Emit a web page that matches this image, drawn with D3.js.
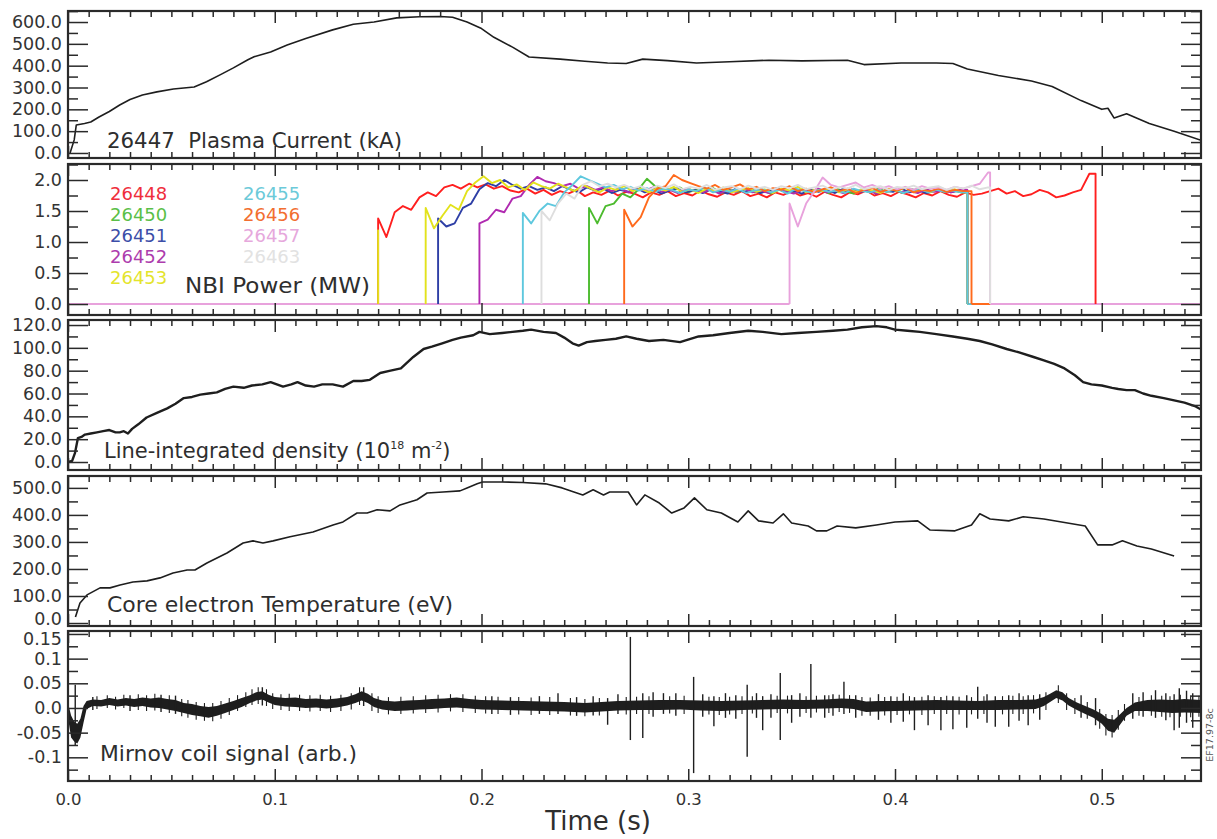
<!DOCTYPE html>
<html><head><meta charset="utf-8">
<script src="https://cdn.jsdelivr.net/npm/d3@7"></script>
<style>
body{margin:0;background:#fff}
svg{display:block}
text{font-family:"DejaVu Sans",sans-serif;fill:#2e2e2e}
</style>
</head><body>
<svg id="c" width="1217" height="839"></svg>
<script>
// ---------------- DATA ----------------
const xTickValues = [0, 0.1, 0.2, 0.3, 0.4, 0.5];
const xTickLabels = ["0.0", "0.1", "0.2", "0.3", "0.4", "0.5"];

const yTicksCurrent = [0, 100, 200, 300, 400, 500, 600];
const yLabelsCurrent = ["0.0", "100.0", "200.0", "300.0", "400.0", "500.0", "600.0"];
const yTicksNbi = [0, 0.5, 1.0, 1.5, 2.0];
const yLabelsNbi = ["0.0", "0.5", "1.0", "1.5", "2.0"];
const yTicksDensity = [0, 20, 40, 60, 80, 100, 120];
const yLabelsDensity = ["0.0", "20.0", "40.0", "60.0", "80.0", "100.0", "120.0"];
const yTicksTemp = [0, 100, 200, 300, 400, 500];
const yLabelsTemp = ["0.0", "100.0", "200.0", "300.0", "400.0", "500.0"];
const yTicksMirnov = [-0.1, -0.05, 0, 0.05, 0.1, 0.15];
const yLabelsMirnov = ["-0.1", "-0.05", "0.0", "0.05", "0.1", "0.15"];

// Plasma current, shot 26447 (kA)
const currentT = [0.001,0.003,0.004,0.008,0.011,0.015,0.020,0.025,0.030,0.036,0.043,0.051,0.061,0.067,0.074,0.080,0.087,0.090,0.098,0.106,0.115,0.128,0.138,0.148,0.159,0.170,0.180,0.186,0.193,0.200,0.206,0.215,0.223,0.238,0.250,0.261,0.270,0.278,0.290,0.304,0.320,0.339,0.355,0.377,0.385,0.403,0.420,0.428,0.435,0.450,0.466,0.476,0.490,0.500,0.503,0.506,0.512,0.523,0.535,0.548];
const currentI = [0,60,128,135,142,165,190,220,245,266,280,293,302,326,360,390,427,441,463,495,525,564,590,600,619,624,625,622,600,570,530,485,440,430,420,412,410,430,423,412,418,425,422,425,405,412,412,410,385,355,330,305,240,200,205,160,180,135,100,58];

// NBI power (MW)
const nbiShots  = ["26448","26450","26451","26452","26453","26455","26456","26457","26463"];
const nbiColors = ["#ff1f1f","#4cbb2e","#2e3fa6","#b02ab0","#e2e21c","#5ec8de","#ff6a1c","#e8a2dc","#dedede"];
const nbiLegendColors = ["#ef2e3c","#5abf48","#3c4ea8","#ad3cad","#e4e42c","#6ccad9","#f26e30","#e6a8dc","#e2e2e2"];
const nbiOn  = [0.150, 0.252, 0.179, 0.199, 0.173, 0.220, 0.269, 0.349, 0.229];
const nbiOff = [0.497, 0.435, 0.435, 0.435, 0.435, 0.435, 0.437, 0.446, 0.446];
const nbiStep = 0.004;
const nbiPulse26453 = [0.150, 1.20];
const nbi26448 = [1.38,1.08,1.48,1.58,1.52,1.72,1.80,1.74,1.88,1.92,
 1.86,1.94,1.88,1.93,1.86,1.90,1.83,1.80,1.86,1.78,
 1.84,1.76,1.82,1.78,1.84,1.74,1.80,1.76,1.83,1.75,
 1.81,1.78,1.72,1.80,1.76,1.82,1.74,1.79,1.75,1.83,
 1.77,1.73,1.80,1.76,1.82,1.74,1.78,1.72,1.80,1.76,
 1.82,1.75,1.79,1.73,1.81,1.76,1.72,1.80,1.77,1.83,
 1.75,1.79,1.74,1.81,1.77,1.72,1.79,1.75,1.82,1.76,
 1.73,1.80,1.76,1.78,1.82,1.86,1.78,1.82,1.74,1.77,
 1.84,1.80,1.72,1.75,1.80,1.84,2.10];
const nbi26450 = [1.55,1.30,1.58,1.62,1.78,1.72,1.85,2.02,1.90,1.86,
 1.84,1.88,1.80,1.85,1.82,1.87,1.79,1.84,1.81,1.86,
 1.80,1.83,1.78,1.85,1.82,1.80,1.86,1.81,1.84,1.79,
 1.85,1.82,1.78,1.84,1.80,1.86,1.81,1.83,1.79,1.85,
 1.82,1.80,1.84,1.81,1.83,1.80];
const nbi26451 = [1.38,1.25,1.30,1.55,1.62,1.85,1.95,1.90,2.00,1.92,
 1.86,1.90,1.84,1.88,1.82,1.90,1.85,1.80,1.88,1.83,
 1.86,1.79,1.84,1.81,1.87,1.80,1.85,1.78,1.83,1.86,
 1.80,1.84,1.79,1.85,1.82,1.78,1.86,1.81,1.84,1.79,
 1.83,1.87,1.80,1.82,1.78,1.85,1.81,1.84,1.79,1.86,
 1.82,1.80,1.85,1.78,1.83,1.81,1.86,1.80,1.84,1.79,
 1.82,1.85,1.80,1.83];
const nbi26452 = [1.30,1.36,1.52,1.48,1.70,1.74,1.92,2.05,1.98,1.95,
 1.90,1.94,1.86,1.90,1.84,1.88,1.82,1.87,1.80,1.85,
 1.83,1.88,1.81,1.84,1.79,1.86,1.82,1.80,1.85,1.78,
 1.84,1.81,1.87,1.80,1.83,1.79,1.85,1.82,1.78,1.84,
 1.81,1.86,1.80,1.83,1.79,1.85,1.81,1.84,1.78,1.83,
 1.86,1.80,1.82,1.79,1.85,1.81,1.83,1.80,1.84];
const nbi26453 = [1.55,1.22,1.42,1.60,1.52,1.82,1.96,2.06,1.95,2.00,
 1.88,1.93,1.84,1.96,1.90,1.86,1.94,1.88,1.82,1.92,
 1.86,1.80,1.88,1.84,1.90,1.82,1.86,1.80,1.87,1.83,
 1.89,1.81,1.85,1.79,1.86,1.82,1.88,1.80,1.84,1.87,
 1.81,1.85,1.79,1.86,1.83,1.89,1.80,1.84,1.82,1.88,
 1.80,1.85,1.81,1.87,1.83,1.79,1.86,1.82,1.88,1.81,
 1.84,1.80,1.86,1.82,1.85,1.80];
const nbi26455 = [1.47,1.30,1.50,1.62,1.58,1.80,1.92,2.06,2.00,1.94,
 1.88,1.92,1.85,1.89,1.83,1.87,1.81,1.86,1.84,1.79,
 1.85,1.82,1.88,1.80,1.84,1.81,1.86,1.79,1.83,1.85,
 1.80,1.84,1.78,1.86,1.82,1.80,1.85,1.81,1.83,1.79,
 1.86,1.82,1.80,1.84,1.81,1.85,1.79,1.83,1.86,1.80,
 1.84,1.81,1.83,1.80];
const nbi26456 = [1.52,1.25,1.40,1.72,1.86,1.90,2.08,2.00,1.95,1.90,
 1.86,1.92,1.84,1.88,1.93,1.85,1.89,1.82,1.87,1.84,
 1.90,1.82,1.86,1.80,1.85,1.88,1.82,1.86,1.79,1.84,
 1.87,1.81,1.85,1.83,1.88,1.80,1.84,1.82,1.86,1.81,
 1.84,1.82];
const nbi26457 = [1.62,1.25,1.62,1.82,2.04,1.92,1.88,1.92,1.96,1.88,
 1.92,1.86,1.90,1.85,1.89,1.84,1.90,1.86,1.88,1.84,
 1.89,1.86,1.90,1.94,2.12];
const nbi26463 = [1.50,1.35,1.62,1.78,1.70,1.92,1.98,1.90,1.94,1.88,
 1.92,1.86,1.90,1.84,1.91,1.87,1.93,1.85,1.89,1.86,
 1.92,1.84,1.88,1.90,1.85,1.91,1.86,1.89,1.84,1.90,
 1.87,1.92,1.85,1.88,1.91,1.84,1.89,1.86,1.92,1.85,
 1.88,1.90,1.84,1.89,1.87,1.91,1.85,1.88,1.90,1.84,
 1.89,1.86,1.91,1.85,1.88];
const nbiValues = [nbi26448, nbi26450, nbi26451, nbi26452, nbi26453, nbi26455, nbi26456, nbi26457, nbi26463];

// Line-integrated density [t, 1e18 m^-2]
const density = [[0,0],[0.002,1],[0.0034,8],[0.0048,21],[0.0065,22],[0.0082,24],[0.011,25],[0.014,26],[0.017,27],[0.020,28],[0.023,26],[0.025,26],[0.027,27],[0.029,25],[0.031,29],[0.034,33],[0.038,39],[0.043,43],[0.048,47],[0.052,51],[0.056,56],[0.060,57],[0.064,59],[0.068,60],[0.072,61],[0.076,64],[0.080,66],[0.085,65],[0.089,67],[0.094,68],[0.098,70],[0.101,68],[0.104,66],[0.108,68],[0.111,70],[0.115,67],[0.119,66],[0.123,68],[0.128,68],[0.133,66],[0.138,71],[0.142,71],[0.146,72],[0.151,78],[0.156,80],[0.161,82],[0.164,87],[0.167,92],[0.172,99],[0.176,101],[0.181,104],[0.186,107],[0.190,109],[0.196,111],[0.199,114],[0.204,112],[0.210,113],[0.215,114],[0.220,115],[0.224,116],[0.230,114],[0.236,113],[0.240,109],[0.244,104],[0.247,102],[0.251,105],[0.255,106],[0.260,107],[0.265,108],[0.270,110],[0.275,108],[0.281,106],[0.288,107],[0.296,105],[0.305,110],[0.312,111],[0.320,113],[0.329,115],[0.336,114],[0.345,112],[0.353,113],[0.362,114],[0.370,115],[0.377,116],[0.384,118],[0.391,119],[0.396,118],[0.400,116],[0.406,115],[0.412,114],[0.420,112],[0.428,110],[0.435,108],[0.441,106],[0.447,103],[0.454,99],[0.460,96],[0.467,92],[0.472,89],[0.477,86],[0.482,82],[0.487,76],[0.491,70],[0.495,68],[0.500,67],[0.505,65],[0.508,64],[0.512,63],[0.516,63],[0.520,60],[0.524,58],[0.530,56],[0.535,54],[0.540,52],[0.545,49],[0.548,46]];

// Core electron temperature [t, eV]
const temperature = [[0.0036,22],[0.0058,74],[0.0092,104],[0.0155,130],[0.0203,130],[0.0252,141],[0.0314,152],[0.0382,156],[0.0445,167],[0.0508,185],[0.0576,196],[0.0614,196],[0.0672,222],[0.0769,259],[0.0847,296],[0.0895,304],[0.0943,296],[0.0992,304],[0.1074,319],[0.1185,337],[0.1282,363],[0.1330,374],[0.1398,407],[0.1447,407],[0.1495,419],[0.1558,415],[0.1606,437],[0.1688,456],[0.1737,481],[0.1814,485],[0.1896,489],[0.1930,500],[0.1979,515],[0.2005,522],[0.210,522],[0.220,520],[0.231,515],[0.239,500],[0.249,474],[0.254,493],[0.259,474],[0.262,485],[0.271,485],[0.275,437],[0.279,474],[0.286,444],[0.292,407],[0.298,426],[0.303,463],[0.309,419],[0.316,407],[0.324,374],[0.329,415],[0.334,378],[0.341,370],[0.346,404],[0.350,370],[0.358,359],[0.362,341],[0.367,341],[0.372,359],[0.381,352],[0.391,363],[0.400,374],[0.411,378],[0.417,344],[0.429,341],[0.437,363],[0.441,404],[0.446,385],[0.455,378],[0.462,393],[0.472,385],[0.492,359],[0.498,289],[0.505,289],[0.510,304],[0.517,285],[0.524,274],[0.535,248]];

// Mirnov coil signal: band envelope [t, upper, lower], fine fluctuation ticks and spikes [t, top, bottom]
const mirnovBand = [[0.000,0.010,-0.020],[0.0015,-0.015,-0.060],[0.003,-0.028,-0.068],[0.0045,-0.032,-0.072],[0.006,-0.022,-0.060],[0.0075,0.004,-0.030],[0.009,0.014,-0.002],[0.012,0.017,0.004],[0.016,0.016,0.003],[0.020,0.020,0.006],[0.024,0.017,0.003],[0.028,0.020,0.005],[0.032,0.018,0.002],[0.036,0.021,0.004],[0.040,0.019,0.001],[0.044,0.021,0.000],[0.048,0.018,-0.003],[0.052,0.016,-0.006],[0.056,0.010,-0.010],[0.060,0.008,-0.014],[0.064,0.004,-0.017],[0.068,0.002,-0.020],[0.072,0.004,-0.016],[0.076,0.009,-0.010],[0.080,0.014,-0.004],[0.084,0.020,0.002],[0.088,0.026,0.010],[0.091,0.032,0.015],[0.094,0.034,0.017],[0.097,0.027,0.011],[0.100,0.022,0.006],[0.105,0.020,0.003],[0.110,0.021,0.002],[0.115,0.018,0.000],[0.120,0.019,0.001],[0.125,0.017,-0.001],[0.130,0.019,0.001],[0.135,0.022,0.005],[0.139,0.028,0.010],[0.142,0.034,0.015],[0.145,0.029,0.010],[0.148,0.020,0.002],[0.152,0.015,-0.003],[0.158,0.013,-0.006],[0.164,0.015,-0.005],[0.170,0.016,-0.003],[0.176,0.018,-0.002],[0.182,0.019,0.000],[0.188,0.021,0.001],[0.194,0.018,-0.001],[0.200,0.016,-0.003],[0.210,0.015,-0.004],[0.220,0.014,-0.005],[0.230,0.013,-0.006],[0.240,0.012,-0.007],[0.250,0.010,-0.009],[0.258,0.012,-0.007],[0.266,0.014,-0.005],[0.276,0.015,-0.004],[0.286,0.016,-0.004],[0.296,0.016,-0.003],[0.306,0.015,-0.005],[0.316,0.014,-0.006],[0.326,0.015,-0.004],[0.336,0.016,-0.003],[0.346,0.017,-0.002],[0.356,0.016,-0.002],[0.366,0.017,-0.001],[0.374,0.019,0.000],[0.380,0.018,-0.002],[0.386,0.013,-0.008],[0.392,0.014,-0.007],[0.400,0.014,-0.006],[0.410,0.015,-0.005],[0.420,0.016,-0.004],[0.430,0.015,-0.004],[0.440,0.014,-0.004],[0.450,0.016,-0.004],[0.460,0.016,-0.003],[0.468,0.017,-0.002],[0.472,0.022,0.004],[0.475,0.029,0.012],[0.478,0.036,0.020],[0.481,0.032,0.015],[0.484,0.020,0.005],[0.488,0.011,-0.004],[0.492,0.004,-0.012],[0.496,-0.003,-0.020],[0.500,-0.012,-0.032],[0.503,-0.022,-0.046],[0.506,-0.024,-0.050],[0.509,-0.012,-0.033],[0.512,0.000,-0.016],[0.516,0.011,-0.006],[0.522,0.016,-0.006],[0.528,0.017,-0.008],[0.534,0.016,-0.010],[0.540,0.018,-0.009],[0.548,0.016,-0.010]];
const mirnovFuzz = [[0.014,0.024,-0.002],[0.019,0.026,0.000],[0.023,0.023,-0.003],[0.027,0.027,0.000],[0.034,0.028,-0.004],[0.038,0.026,-0.006],[0.042,0.029,-0.005],[0.049,0.026,-0.010],[0.055,0.018,-0.017],[0.058,0.016,-0.020],[0.062,0.012,-0.024],[0.066,0.010,-0.026],[0.070,0.010,-0.027],[0.074,0.014,-0.022],[0.078,0.020,-0.014],[0.082,0.026,-0.006],[0.086,0.032,0.002],[0.089,0.038,0.006],[0.092,0.042,0.008],[0.096,0.038,0.004],[0.099,0.030,-0.002],[0.103,0.028,-0.004],[0.107,0.029,-0.006],[0.112,0.027,-0.006],[0.117,0.026,-0.007],[0.122,0.027,-0.006],[0.127,0.025,-0.008],[0.132,0.027,-0.006],[0.137,0.030,-0.003],[0.141,0.042,0.006],[0.147,0.030,-0.006],[0.150,0.024,-0.010],[0.155,0.022,-0.013],[0.161,0.023,-0.012],[0.167,0.024,-0.011],[0.173,0.026,-0.010],[0.179,0.027,-0.009],[0.185,0.028,-0.007],[0.191,0.028,-0.008],[0.197,0.025,-0.010],[0.202,0.024,-0.011],[0.208,0.023,-0.012],[0.218,0.022,-0.013],[0.224,0.021,-0.014],[0.233,0.022,-0.014],[0.243,0.020,-0.015],[0.250,0.018,-0.017],[0.257,0.020,-0.015],[0.270,0.022,-0.013],[0.275,0.023,-0.012],[0.281,0.024,-0.012],[0.291,0.024,-0.011],[0.298,0.025,-0.012],[0.310,0.023,-0.013],[0.315,0.022,-0.014],[0.320,0.023,-0.013],[0.326,0.024,-0.012],[0.331,0.024,-0.011],[0.343,0.025,-0.010],[0.348,0.025,-0.011],[0.357,0.024,-0.010],[0.362,0.025,-0.009],[0.368,0.026,-0.010],[0.373,0.027,-0.008],[0.378,0.026,-0.010],[0.384,0.022,-0.016],[0.388,0.021,-0.016],[0.395,0.022,-0.015],[0.401,0.023,-0.014],[0.407,0.024,-0.013],[0.413,0.023,-0.014],[0.419,0.024,-0.012],[0.425,0.025,-0.012],[0.431,0.023,-0.013],[0.437,0.022,-0.013],[0.443,0.024,-0.012],[0.452,0.024,-0.013],[0.457,0.025,-0.012],[0.462,0.024,-0.012],[0.467,0.026,-0.011],[0.473,0.032,-0.004],[0.479,0.046,0.010],[0.483,0.030,-0.004],[0.487,0.020,-0.012],[0.493,0.012,-0.022],[0.499,-0.002,-0.042],[0.502,-0.012,-0.056],[0.505,-0.014,-0.060],[0.508,-0.004,-0.044],[0.511,0.008,-0.026],[0.518,0.022,-0.016],[0.524,0.026,-0.016],[0.529,0.025,-0.018],[0.533,0.024,-0.019],[0.538,0.027,-0.018],[0.543,0.026,-0.019],[0.547,0.025,-0.018]];
const mirnovSpikes = [[0.0035,0.047,-0.075],[0.012,0.022,-0.004],[0.030,0.026,-0.006],[0.045,0.027,-0.008],[0.052,0.025,-0.012],[0.094,0.042,0.005],[0.143,0.042,0.004],
 [0.205,0.024,-0.012],[0.214,0.022,-0.014],[0.228,0.024,-0.012],[0.237,0.030,-0.012],[0.246,0.022,-0.016],[0.254,0.024,-0.015],[0.261,0.020,-0.034],[0.266,0.028,-0.012],
 [0.272,0.144,-0.065],[0.278,0.030,-0.061],[0.283,0.032,-0.018],[0.288,0.030,-0.012],[0.294,0.030,-0.016],[0.3026,0.063,-0.132],[0.307,0.028,-0.018],[0.3124,0.024,-0.037],[0.318,0.030,-0.020],[0.323,0.026,-0.022],
 [0.3285,0.047,-0.099],[0.333,0.030,-0.020],[0.336,0.024,-0.045],[0.340,0.028,-0.020],[0.3445,0.071,-0.065],[0.350,0.026,-0.030],[0.354,0.030,-0.018],[0.3593,0.089,-0.020],[0.366,0.026,-0.020],[0.370,0.028,-0.016],[0.3753,0.053,-0.012],[0.381,0.026,-0.020],
 [0.392,0.028,-0.024],[0.398,0.024,-0.030],[0.404,0.030,-0.028],[0.4094,0.022,-0.045],[0.416,0.026,-0.035],[0.4222,0.022,-0.045],[0.428,0.024,-0.043],[0.4347,0.026,-0.040],[0.440,0.043,-0.022],[0.4445,0.028,-0.030],[0.4485,0.024,-0.038],[0.455,0.026,-0.038],[0.460,0.030,-0.026],[0.4644,0.026,-0.035],[0.470,0.028,-0.024],
 [0.490,0.026,-0.020],[0.497,0.020,-0.035],[0.515,0.030,-0.022],[0.520,0.032,-0.018],[0.526,0.036,-0.020],[0.531,0.030,-0.025],[0.535,0.028,-0.045],[0.5375,0.040,-0.040],[0.541,0.035,-0.030],[0.544,0.030,-0.040]];

// ---------------- DRAWING ----------------
const svg = d3.select("#c");
const x = d3.scaleLinear().domain([0, 0.548]).range([68, 1201]);

const panels = [
  {top: 11,  bottom: 158, dom: [-23, 650.5],     ticks: yTicksCurrent, labels: yLabelsCurrent, minor: 50,    nudgeLow: 0,  nudgeHigh: 0},
  {top: 164, bottom: 315, dom: [-0.177, 2.258],  ticks: yTicksNbi,     labels: yLabelsNbi,     minor: 0.25,  nudgeLow: 0,  nudgeHigh: 0},
  {top: 320, bottom: 470, dom: [-7, 124.4],      ticks: yTicksDensity, labels: yLabelsDensity, minor: 10,    nudgeLow: 0,  nudgeHigh: 0},
  {top: 476, bottom: 626, dom: [-11, 544],       ticks: yTicksTemp,    labels: yLabelsTemp,    minor: 50,    nudgeLow: -4.5, nudgeHigh: 0},
  {top: 631, bottom: 781, dom: [-0.148, 0.156],  ticks: yTicksMirnov,  labels: yLabelsMirnov,  minor: 0.025, nudgeLow: 0,  nudgeHigh: 4.5}
];
panels.forEach((p, i) => {
  p.y = d3.scaleLinear().domain(p.dom).range([p.bottom, p.top]);
  svg.append("clipPath").attr("id", "clip" + i).append("rect")
    .attr("x", x(0)).attr("y", p.top).attr("width", x(0.548) - x(0)).attr("height", p.bottom - p.top);
  p.g = svg.append("g").attr("clip-path", `url(#clip${i})`);
});

const ink = "#1e1e1e";

// Panel 1: plasma current
{
  const p = panels[0];
  const pts = currentT.map((t, i) => [t, currentI[i]]);
  p.g.append("path").datum(pts)
    .attr("d", d3.line().x(d => x(d[0])).y(d => p.y(d[1])))
    .attr("fill", "none").attr("stroke", ink).attr("stroke-width", 1.6).attr("stroke-linejoin", "round");
}

// Panel 2: NBI power
{
  const p = panels[1];
  const line = d3.line().x(d => x(d[0])).y(d => p.y(d[1]));
  const baseOrder = [8, 0, 1, 2, 3, 4, 5, 6, 7];
  baseOrder.forEach(k => {
    p.g.append("path").datum([[0, 0], [nbiOn[k], 0]]).attr("d", line)
      .attr("fill", "none").attr("stroke", nbiColors[k]).attr("stroke-width", 1.8);
    p.g.append("path").datum([[nbiOff[k], 0], [0.548, 0]]).attr("d", line)
      .attr("fill", "none").attr("stroke", nbiColors[k]).attr("stroke-width", 1.8);
  });
  nbiShots.forEach((s, k) => {
    const vals = nbiValues[k];
    const pts = [[nbiOn[k], 0]];
    vals.forEach((v, i) => {
      const t = nbiOn[k] + i * nbiStep;
      if (t < nbiOff[k]) pts.push([t, v]);
    });
    pts.push([nbiOff[k], pts[pts.length - 1][1]]);
    pts.push([nbiOff[k], 0]);
    p.g.append("path").datum(pts).attr("d", line)
      .attr("fill", "none").attr("stroke", nbiColors[k]).attr("stroke-width", 1.9)
      .attr("stroke-linejoin", "round");
    if (s === "26448") {
      p.g.append("path").datum([[nbiPulse26453[0], 0], [nbiPulse26453[0], nbiPulse26453[1]]])
        .attr("d", line).attr("fill", "none").attr("stroke", nbiColors[4]).attr("stroke-width", 1.9);
    }
  });
  nbiShots.forEach((s, k) => {
    const col = k < 5 ? 0 : 1, row = k < 5 ? k : k - 5;
    svg.append("text").attr("x", col ? 243 : 110).attr("y", 199.5 + row * 21)
      .attr("font-size", 18).style("fill", nbiLegendColors[k]).text(s);
  });
}

// Panel 3: density
{
  const p = panels[2];
  p.g.append("path").datum(density)
    .attr("d", d3.line().x(d => x(d[0])).y(d => p.y(d[1])))
    .attr("fill", "none").attr("stroke", ink).attr("stroke-width", 2.4).attr("stroke-linejoin", "round");
}

// Panel 4: temperature
{
  const p = panels[3];
  p.g.append("path").datum(temperature)
    .attr("d", d3.line().x(d => x(d[0])).y(d => p.y(d[1])))
    .attr("fill", "none").attr("stroke", ink).attr("stroke-width", 1.6).attr("stroke-linejoin", "round");
}

// Panel 5: Mirnov
{
  const p = panels[4];
  p.g.append("path").datum(mirnovBand)
    .attr("d", d3.area().x(d => x(d[0])).y0(d => p.y(d[2])).y1(d => p.y(d[1])))
    .attr("fill", ink).attr("stroke", "none");
  p.g.selectAll("line.fz").data(mirnovFuzz).join("line").attr("class", "fz")
    .attr("x1", d => x(d[0])).attr("x2", d => x(d[0]))
    .attr("y1", d => p.y(d[1])).attr("y2", d => p.y(d[2]))
    .attr("stroke", ink).attr("stroke-width", 1.1);
  p.g.selectAll("line.sp").data(mirnovSpikes).join("line").attr("class", "sp")
    .attr("x1", d => x(d[0])).attr("x2", d => x(d[0]))
    .attr("y1", d => p.y(d[1])).attr("y2", d => p.y(d[2]))
    .attr("stroke", ink).attr("stroke-width", 1.4);
}

// Axes, ticks and frames
const xMinor = d3.range(0, 0.5481, 0.01).filter(v => Math.abs(v * 10 - Math.round(v * 10)) > 1e-6);
panels.forEach((p, i) => {
  const yMinor = d3.range(Math.ceil(p.dom[0] / p.minor) * p.minor, p.dom[1], p.minor)
    .filter(v => !p.ticks.some(t => Math.abs(t - v) < 1e-9));
  const style = g => { g.select(".domain").remove(); g.selectAll("line").attr("stroke", "#2a2a2a").attr("stroke-width", 1.5); g.selectAll("text").remove(); };
  svg.append("g").attr("transform", `translate(0,${p.bottom})`).call(d3.axisBottom(x).tickValues(xTickValues).tickSize(-12).tickFormat("")).call(style);
  svg.append("g").attr("transform", `translate(0,${p.bottom})`).call(d3.axisBottom(x).tickValues(xMinor).tickSize(-6).tickFormat("")).call(style);
  svg.append("g").attr("transform", `translate(0,${p.top})`).call(d3.axisTop(x).tickValues(xTickValues).tickSize(-12).tickFormat("")).call(style);
  svg.append("g").attr("transform", `translate(0,${p.top})`).call(d3.axisTop(x).tickValues(xMinor).tickSize(-6).tickFormat("")).call(style);
  svg.append("g").attr("transform", `translate(${x(0)},0)`).call(d3.axisLeft(p.y).tickValues(p.ticks).tickSize(-20).tickFormat("")).call(style);
  svg.append("g").attr("transform", `translate(${x(0)},0)`).call(d3.axisLeft(p.y).tickValues(yMinor).tickSize(-10).tickFormat("")).call(style);
  svg.append("g").attr("transform", `translate(${x(0.548)},0)`).call(d3.axisRight(p.y).tickValues(p.ticks).tickSize(-20).tickFormat("")).call(style);
  svg.append("g").attr("transform", `translate(${x(0.548)},0)`).call(d3.axisRight(p.y).tickValues(yMinor).tickSize(-10).tickFormat("")).call(style);
  const lab = svg.append("g").attr("transform", `translate(${x(0) - 6},0)`)
    .call(d3.axisLeft(p.y).tickValues(p.ticks).tickSize(0).tickPadding(0).tickFormat((d, k) => p.labels[k]));
  lab.select(".domain").remove();
  lab.attr("font-family", null).attr("font-size", null);
  const n = p.ticks.length;
  lab.selectAll("text").attr("font-size", 17.5).style("fill", "#333")
    .attr("y", (d, k) => k === 0 ? p.nudgeLow : (k === n - 1 ? p.nudgeHigh : 0));
  svg.append("rect").attr("x", x(0)).attr("y", p.top).attr("width", x(0.548) - x(0)).attr("height", p.bottom - p.top)
    .attr("fill", "none").attr("stroke", "#2a2a2a").attr("stroke-width", 2.2);
});

// x tick labels
{
  const g = svg.append("g").attr("transform", `translate(0,${panels[4].bottom + 12})`)
    .call(d3.axisBottom(x).tickValues(xTickValues).tickSize(0).tickPadding(0).tickFormat((d, k) => xTickLabels[k]));
  g.select(".domain").remove();
  g.attr("font-family", null).attr("font-size", null);
  g.selectAll("text").attr("font-size", 16.5).style("fill", "#333");
}
svg.append("text").attr("x", 598).attr("y", 830).attr("text-anchor", "middle")
  .attr("font-size", 26).text("Time (s)");

// panel labels
function label(txt, x0, y0, len, fs) {
  svg.append("text").attr("x", x0).attr("y", y0).attr("font-size", fs)
    .attr("textLength", len).attr("lengthAdjust", "spacingAndGlyphs")
    .style("white-space", "pre").text(txt);
}
label("26447  Plasma Current (kA)", 107, 148, 295, 21.5);
label("NBI Power (MW)", 185, 293, 185, 21.5);
label("Core electron Temperature (eV)", 107, 612, 346, 21.5);
label("Mirnov coil signal (arb.)", 100, 761, 257, 21.5);
{
  const t = svg.append("text").attr("x", 104).attr("y", 458).attr("font-size", 21);
  t.append("tspan").text("Line-integrated density (10");
  t.append("tspan").attr("font-size", 11).attr("dy", -9).text("18");
  t.append("tspan").attr("dy", 9).text(" m");
  t.append("tspan").attr("font-size", 11).attr("dy", -9).text("-2");
  t.append("tspan").attr("dy", 9).text(")");
}
svg.append("text").attr("transform", "translate(1213,735) rotate(-90)").attr("text-anchor", "middle")
  .attr("font-size", 9.5).style("fill", "#555").text("EF17.97-8c");
</script>
</body></html>
